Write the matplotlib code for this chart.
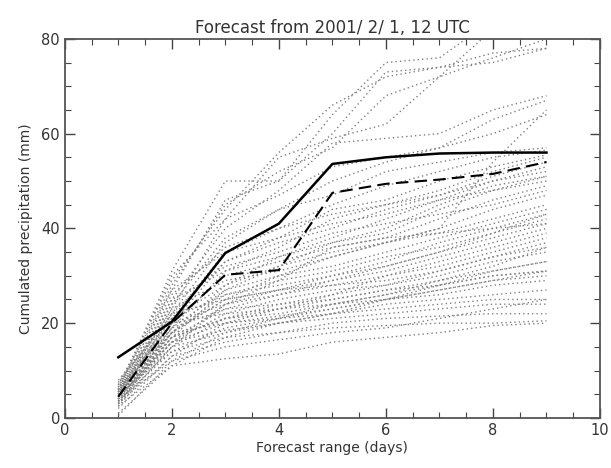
import numpy as np
import matplotlib
matplotlib.use("Agg")
import matplotlib.pyplot as plt
from matplotlib.ticker import MultipleLocator

days = [1, 2, 3, 4, 5, 6, 7, 8, 9]

# two highlighted runs
solid_run = [12.8, 20.3, 34.8, 41.0, 53.6, 55.0, 55.8, 56.0, 56.0]
dashed_run = [4.5, 20.0, 30.2, 31.2, 47.5, 49.4, 50.3, 51.5, 54.0]

# ensemble members (dotted)
members = [
    [6.0, 31, 50, 50, 64, 75, 76, 84, 92],
    [5.5, 27, 46, 50, 60, 73, 74, 77, 78],
    [6.5, 28, 45, 52, 57, 68, 72, 76, 80],
    [5.0, 23, 42, 55, 59, 62, 72, 82, 90],
    [7.0, 29, 44, 56, 66, 72, 74, 75, 78],
    [5.0, 25, 40, 48, 58, 59, 60, 65, 68],
    [4.5, 22, 37, 44, 50, 54, 57, 63, 67],
    [4.0, 18, 25, 30, 34, 37, 40, 54, 65],
    [6.0, 30, 42, 47, 53, 55, 57, 60, 64],
    [5.5, 24, 38, 44, 47, 52, 54, 56, 57],
    [4.5, 21, 35, 40, 45, 49, 52, 55, 56.5],
    [5.0, 20, 33, 38, 44, 46, 50, 53, 55.5],
    [3.5, 19, 31, 36, 42, 45, 48, 52, 55],
    [4.0, 22, 33, 37, 40, 44, 47, 51, 54],
    [6.5, 26, 36, 40, 43, 45, 47, 50, 53],
    [5.0, 18, 28, 34, 38, 42, 46, 50, 52],
    [3.0, 17, 27, 32, 37, 39, 44, 48, 51],
    [4.5, 20, 30, 33, 36, 38, 42, 46, 49],
    [5.5, 23, 29, 31, 34, 37, 40, 44, 47],
    [2.5, 15, 24, 29, 36, 38, 39, 42, 45],
    [4.0, 19, 27, 30, 32, 35, 38, 41, 44],
    [6.0, 21, 26, 28, 30, 33, 37, 40, 43],
    [3.5, 16, 24, 27, 30, 32, 35, 38, 41],
    [5.0, 18, 25, 27, 29, 31, 34, 37, 40],
    [4.0, 17, 23, 26, 28, 30, 32, 35, 38],
    [7.5, 22, 25, 27, 28, 29, 31, 34, 37],
    [3.0, 15, 21, 24, 26, 28, 31, 34, 36],
    [4.5, 16, 22, 25, 27, 28, 30, 33, 35],
    [5.5, 19, 23, 24, 25, 27, 29, 31, 33],
    [2.0, 13, 20, 23, 25, 27, 28, 30, 31],
    [4.0, 17, 21, 22, 24, 26, 28, 30, 31],
    [6.0, 20, 22, 23, 24, 25, 27, 29, 30],
    [3.5, 14, 19, 21, 23, 25, 26, 28, 29],
    [5.0, 16, 20, 21, 22, 24, 25, 26, 27],
    [1.0, 11, 17, 20, 22, 23, 24, 25, 25],
    [4.5, 15, 18, 20, 21, 22, 23, 24, 24],
    [3.0, 13, 16, 18, 20, 21, 21.5, 22, 22],
    [2.5, 11, 12.5, 13.5, 16, 17, 18, 19.5, 20],
    [5.0, 14, 17, 18, 19, 19.5, 20, 20, 20.5],
    [4.0, 12, 15, 16.5, 18, 19, 21, 23, 25],
    [6.0, 18, 20, 21.5, 23, 25, 27, 29, 31],
    [3.5, 16, 18.5, 20, 22, 25, 28, 31, 33],
    [5.5, 20, 24, 26, 29, 32, 35, 39, 42],
    [4.5, 24, 32, 35, 39, 41, 43, 45, 48],
    [6.0, 25, 31, 34, 37, 40, 45, 49, 51],
    [7.0, 27, 35, 38, 41, 43, 46, 48, 50],
    [3.0, 18, 26, 29, 31, 34, 36, 39, 43],
    [8.0, 21, 28, 32, 35, 37, 39, 40, 41],
    [0.5, 12, 18, 21, 24, 26, 29, 32, 36],
    [5.0, 17, 21, 23, 26, 30, 33, 36, 39],
]

title = "Forecast from 2001/ 2/ 1, 12 UTC"
xlabel = "Forecast range (days)"
ylabel = "Cumulated precipitation (mm)"

fig = plt.figure(figsize=(6.11, 4.68), dpi=100)
ax = fig.add_axes([0.106, 0.107, 0.876, 0.810])

for m in members:
    ax.plot(days, m, linestyle=(0, (1, 2.2)), color="#808080", lw=1.0)

ax.plot(days, dashed_run, color="black", lw=1.5, linestyle=(0, (6, 3)))
ax.plot(days, solid_run, color="black", lw=1.8)

ax.set_xlim(0, 10)
ax.set_ylim(0, 80)
ax.xaxis.set_major_locator(MultipleLocator(2))
ax.xaxis.set_minor_locator(MultipleLocator(0.5))
ax.yaxis.set_major_locator(MultipleLocator(20))
ax.yaxis.set_minor_locator(MultipleLocator(5))
ax.tick_params(which="both", direction="in", top=True, right=True,
               colors="#444444", labelsize=10.5, labelcolor="#333333")
ax.tick_params(which="major", length=7, width=1)
ax.tick_params(which="minor", length=4, width=0.8)
for s in ax.spines.values():
    s.set_color("#555555")
    s.set_linewidth(1.3)

ax.set_title(title, fontsize=12, color="#333333", pad=4)
ax.set_xlabel(xlabel, fontsize=10, color="#333333", labelpad=2)
ax.set_ylabel(ylabel, fontsize=10, color="#333333", labelpad=6)

fig.savefig("out.png", dpi=100)
